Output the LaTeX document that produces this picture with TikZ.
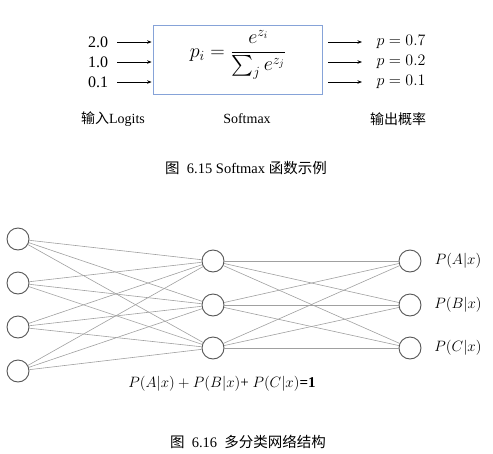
\documentclass[tikz,border=0pt]{standalone}
\usepackage{fix-cm}
\usepackage{amsmath}
\usepackage{fontspec}
\setmainfont{Liberation Serif}
\newfontfamily\cjk{Noto Sans CJK SC}
\usetikzlibrary{arrows.meta}
\definecolor{boxblue}{HTML}{86A3D8}
\definecolor{circgray}{HTML}{555555}
\definecolor{edgegray}{HTML}{A0A0A0}
\tikzset{
  arr/.style={-{Stealth[length=4.5pt,width=3.5pt]}, line width=0.7pt, black},
  neuron/.style={circle, draw=circgray, line width=0.9pt, fill=white, minimum size=22pt, inner sep=0pt},
  edge/.style={draw=edgegray, line width=0.6pt},
  big/.style={font=\fontsize{16}{19}\selectfont},
  formula/.style={font=\fontsize{20}{23}\selectfont},
  lab/.style={font=\fontsize{14}{17}\selectfont},
  plab/.style={font=\fontsize{15}{18}\selectfont},
  captext/.style={font=\fontsize{14.5}{17}\selectfont},
}
\begin{document}
\begin{tikzpicture}[x=1pt,y=-1pt]
\useasboundingbox (0,0) rectangle (493,453);
% Softmax box
\node[draw=boxblue, line width=0.8pt, minimum width=169pt, minimum height=69pt, inner sep=0pt] (box) at (237.5,59.5) {};
\node[formula, inner sep=0pt] (f) at (238,55) {$\displaystyle p_i=\frac{e^{z_i}}{\sum_j e^{z_j}}$};
% inputs
\node[big] (i1) at (98,42) {2.0};
\node[big] (i2) at (98,62) {1.0};
\node[big] (i3) at (98,82) {0.1};
\coordinate (ia1) at (117,42);
\coordinate (ia2) at (117,62);
\coordinate (ia3) at (117,82);
\foreach \k in {1,2,3} \draw[arr] (ia\k) -- ([xshift=-1pt]ia\k -| box.west);
% outputs
\coordinate (oa1) at (328,42);
\coordinate (oa2) at (328,62);
\coordinate (oa3) at (328,82);
\coordinate (ob1) at (362,42);
\coordinate (ob2) at (362,62);
\coordinate (ob3) at (362,82);
\foreach \k in {1,2,3} \draw[arr] (oa\k) -- (ob\k);
\node[big] (o1) at (401,42) {$p=0.7$};
\node[big] (o2) at (401,62) {$p=0.2$};
\node[big] (o3) at (401,82) {$p=0.1$};
% labels
\node[lab] (li) at (113,119) {{\cjk 输入}Logits};
\node[lab] (ls) at (247,119) {Softmax};
\node[lab] (lo) at (398,119) {\cjk 输出概率};
\node[captext] (c1) at (246,168) {{\cjk 图}\ \ 6.15 Softmax {\cjk 函数示例}};
% network
\foreach \k/\y in {1/239,2/283,3/327,4/371} \node[neuron] (l\k) at (18,\y) {};
\foreach \k/\y in {1/261,2/305,3/348} \node[neuron] (m\k) at (213,\y) {};
\foreach \k/\y in {1/261,2/305,3/348} \node[neuron] (r\k) at (410,\y) {};
\foreach \a in {1,2,3,4} \foreach \b in {1,2,3} \draw[edge] (l\a) -- (m\b);
\foreach \a in {1,2,3} \foreach \b in {1,2,3} \draw[edge] (m\a) -- (r\b);
\node[plab] (pa) at (458,261) {$P(A|x)$};
\node[plab] (pb) at (458,305) {$P(B|x)$};
\node[plab] (pc) at (458,348) {$P(C|x)$};
\node[plab] (sum) at (222,384) {$P(A|x)+P(B|x)$+ $P(C|x)$\textbf{=1}};
\node[captext] (c2) at (248,442) {{\cjk 图}\ \ 6.16\ \ {\cjk 多分类网络结构}};
\end{tikzpicture}
\end{document}
